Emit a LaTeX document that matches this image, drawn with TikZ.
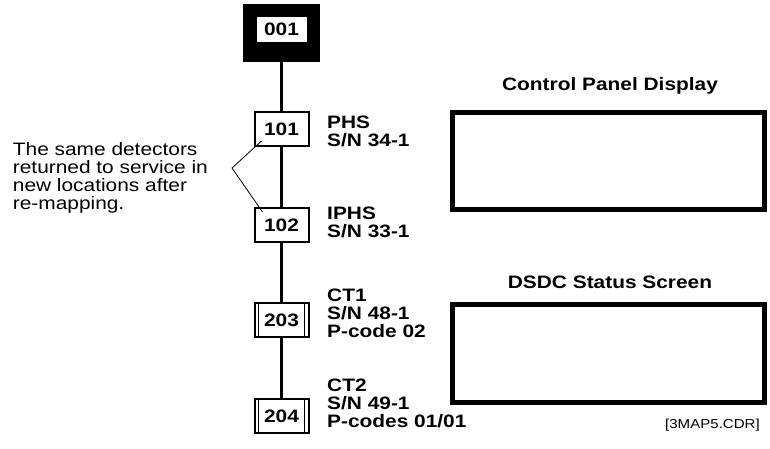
\documentclass[tikz,border=0pt]{standalone}
\usepackage{fontspec}
\setmainfont{Liberation Sans}[FakeStretch=1.16]
\usetikzlibrary{positioning, backgrounds}

\begin{document}
\begin{tikzpicture}[
    x=1pt, y=-1pt,
    trunk/.style={line width=3.3pt},
    callout/.style={line width=0.8pt},
    startframe/.style={rectangle, fill=black, minimum width=77pt, minimum height=58pt, inner sep=0pt},
    startbox/.style={rectangle, fill=white, minimum width=50pt, minimum height=25pt, inner sep=0pt, font=\fontsize{18}{18}\selectfont\bfseries},
    zonebox/.style={rectangle, draw, line width=2pt, fill=white, minimum width=54pt, minimum height=34pt, inner sep=0pt, font=\fontsize{18}{18}\selectfont\bfseries},
    ctbox/.style={zonebox, path picture={
        \draw[line width=1.5pt] ([xshift=4pt]path picture bounding box.north west) -- ([xshift=4pt]path picture bounding box.south west);
        \draw[line width=1.5pt] ([xshift=-4pt]path picture bounding box.north east) -- ([xshift=-4pt]path picture bounding box.south east);}},
    detlabel/.style={anchor=north west, inner sep=0pt, align=left, font=\fontsize{18}{18}\selectfont\bfseries},
    note/.style={anchor=north west, inner sep=0pt, align=left, font=\fontsize{18}{18}\selectfont},
    screen/.style={rectangle, draw, line width=5pt, minimum width=312pt, inner sep=0pt},
    screentitle/.style={anchor=base, inner sep=0pt, font=\fontsize{18}{18}\selectfont\bfseries},
    filetag/.style={anchor=base east, inner sep=0pt, font=\fontsize{13}{15}\selectfont}
]

\path[use as bounding box, fill=white] (0,0) rectangle (770,448);

% Start box
\node[startframe] (frame) at (281.5,33) {};
\node[startbox] (n001) at (281.5,29.5) {001};

% Detector boxes
\node[zonebox] (n101) at (281.5,129) {101};
\node[zonebox] (n102) at (281.5,225) {102};
\node[ctbox] (n203) at (281.5,320) {203};
\node[ctbox] (n204) at (281.5,416) {204};

% Trunk line
\draw[trunk] (frame) -- (n101);
\draw[trunk] (n101) -- (n102);
\draw[trunk] (n102) -- (n203);
\draw[trunk] (n203) -- (n204);

% Detector labels
\node[detlabel] (l101) at (327,116.1) {PHS\\S/N 34-1};
\node[detlabel] (l102) at (327,207.1) {IPHS\\S/N 33-1};
\node[detlabel] (l203) at (327,289.1) {CT1\\S/N 48-1\\P-code 02};
\node[detlabel] (l204) at (327,379.1) {CT2\\S/N 49-1\\P-codes 01/01};

% Callout
\node[note] (note) at (12.7,141.9) {The same detectors\\returned to service in\\new locations after\\re-mapping.};
\coordinate (tip) at (232,168);
\coordinate (c101) at ([shift={(8,-6)}]n101.south west);
\coordinate (c102) at ([shift={(9,5)}]n102.north west);
\draw[callout] (c101) -- (tip) -- (c102);

% Screens
\node[screen, minimum height=97pt] (cpd) at (608.5,161) {};
\node[screen, minimum height=98pt] (dsdc) at (608.5,353.5) {};
\node[screentitle] (cpdtitle) at (610,90) {Control Panel Display};
\node[screentitle] (dsdctitle) at (610,288) {DSDC Status Screen};

\node[filetag] (tag) at (760,428) {[3MAP5.CDR]};

\end{tikzpicture}
\end{document}
